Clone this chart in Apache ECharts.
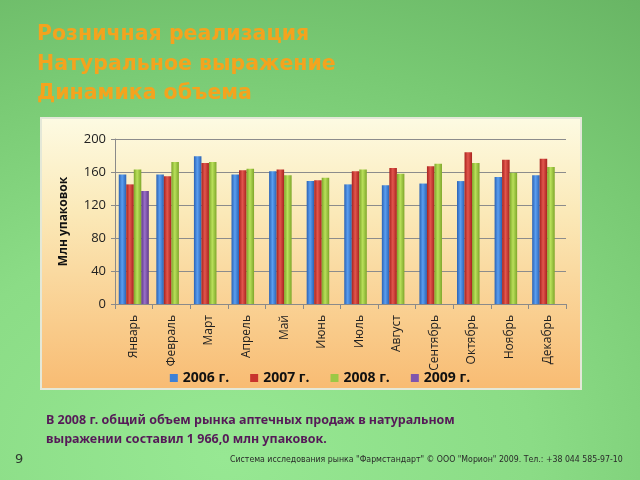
<!DOCTYPE html>
<html><head><meta charset="utf-8">
<script src="https://cdn.jsdelivr.net/npm/echarts@6/dist/echarts.min.js"></script>
<style>
html,body{margin:0;padding:0;width:640px;height:480px;overflow:hidden;}
body{background:radial-gradient(ellipse 120% 120% at 35% 95%, #97e893 0%, #8bdc86 40%, #78c973 70%, #66b262 100%);}
#c{width:640px;height:480px;}
</style></head>
<body><div id="c"></div>
<script>
const months = ['Январь','Февраль','Март','Апрель','Май','Июнь','Июль','Август','Сентябрь','Октябрь','Ноябрь','Декабрь'];
const s2006 = [157,157,179,157,161,149,145,144,146,149,154,156];
const s2007 = [145,155,171,162,163,150,161,165,167,184,175,176];
const s2008 = [163,172,172,164,156,153,163,158,170,171,159,166];
const s2009 = [137,null,null,null,null,null,null,null,null,null,null,null];
const seriesNames = ['2006 г.','2007 г.','2008 г.','2009 г.'];
const yTicks = [0,40,80,120,160,200];

function cyl(dark, light){
  return {type:'linear',x:0,y:0,x2:1,y2:0,colorStops:[
    {offset:0,color:dark},{offset:0.45,color:light},{offset:1,color:dark}]};
}
const colors = [
  cyl('#2a62b4','#5a9ef0'),
  cyl('#a8221e','#e2564d'),
  cyl('#7ea62a','#b9e05a'),
  cyl('#5e3a8a','#9a70c8')
];
const legendColors = ['#3d80d6','#c8342e','#9cc845','#7f55ad'];
const data = [s2006,s2007,s2008,s2009];

const chart = echarts.init(document.getElementById('c'), null, {renderer:'canvas'});
chart.setOption({
  backgroundColor:'transparent',
  animation:false,
  color: legendColors,
  graphic:[
    {type:'rect', z:-10, shape:{x:41,y:118,width:540,height:271},
     style:{fill:{type:'linear',x:0,y:0,x2:0,y2:1,colorStops:[
       {offset:0,color:'#fdfbe3'},{offset:0.35,color:'#fbe9b8'},{offset:1,color:'#f8bb72'}]},
       stroke:'#e4e8d8',lineWidth:2}},
    {type:'text', left:37, top:20, style:{text:'Розничная реализация\nНатуральное выражение\nДинамика объема',
      fill:'#f4a31e', font:'bold 20.5px "DejaVu Sans", sans-serif', lineHeight:29.5}},
    {type:'text', left:46, top:411, style:{text:'В 2008 г. общий объем рынка аптечных продаж в натуральном\nвыражении составил 1 966,0 млн упаковок.',
      fill:'#561a58', font:'bold 12.5px "Noto Sans", sans-serif', lineHeight:19}},
    {type:'text', left:230, top:455, style:{text:'Система исследования рынка "Фармстандарт" © ООО "Морион" 2009. Тел.: +38 044 585-97-10',
      fill:'#2a2a2a', font:'8.7px "DejaVu Sans Condensed", "Liberation Sans Narrow", sans-serif'}},
    {type:'text', left:15, top:453, style:{text:'9', fill:'#2f3a2f', font:'13px "DejaVu Sans", sans-serif'}}
  ],
  grid:{left:115, right:74, top:139, bottom:176},
  legend:{
    bottom:90, left:'center', itemWidth:8, itemHeight:8, itemGap:21, icon:'rect',
    textStyle:{fontFamily:'"Open Sans", sans-serif', fontWeight:'bold', fontSize:14, color:'#111'},
    data: seriesNames.map((n,i)=>({name:n, itemStyle:{color:legendColors[i]}}))
  },
  xAxis:{
    type:'category', data:months,
    axisLine:{lineStyle:{color:'#8a8a8a',width:1}},
    axisTick:{show:true,length:5,lineStyle:{color:'#8a8a8a'}},
    axisLabel:{rotate:90, interval:0, margin:11, color:'#222', fontSize:12, fontFamily:'"Open Sans", sans-serif'}
  },
  yAxis:{
    type:'value', min:yTicks[0], max:yTicks[yTicks.length-1], interval:40,
    name:'Млн упаковок', nameLocation:'middle', nameGap:45, nameRotate:90,
    nameTextStyle:{fontWeight:'bold', fontSize:12, color:'#111', fontFamily:'"Open Sans", sans-serif'},
    axisLine:{show:true, lineStyle:{color:'#8a8a8a'}},
    axisTick:{show:true, length:4, lineStyle:{color:'#8a8a8a'}},
    axisLabel:{color:'#222', fontSize:13, margin:9, fontFamily:'"Open Sans", sans-serif'},
    splitLine:{lineStyle:{color:'#8c8c8c',width:1}}
  },
  series: data.map((d,i)=>({
    name:seriesNames[i], type:'bar', data:d,
    barGap:'0%', barCategoryGap:'20%',
    itemStyle:{color:colors[i]}
  }))
});
</script>
</body></html>
